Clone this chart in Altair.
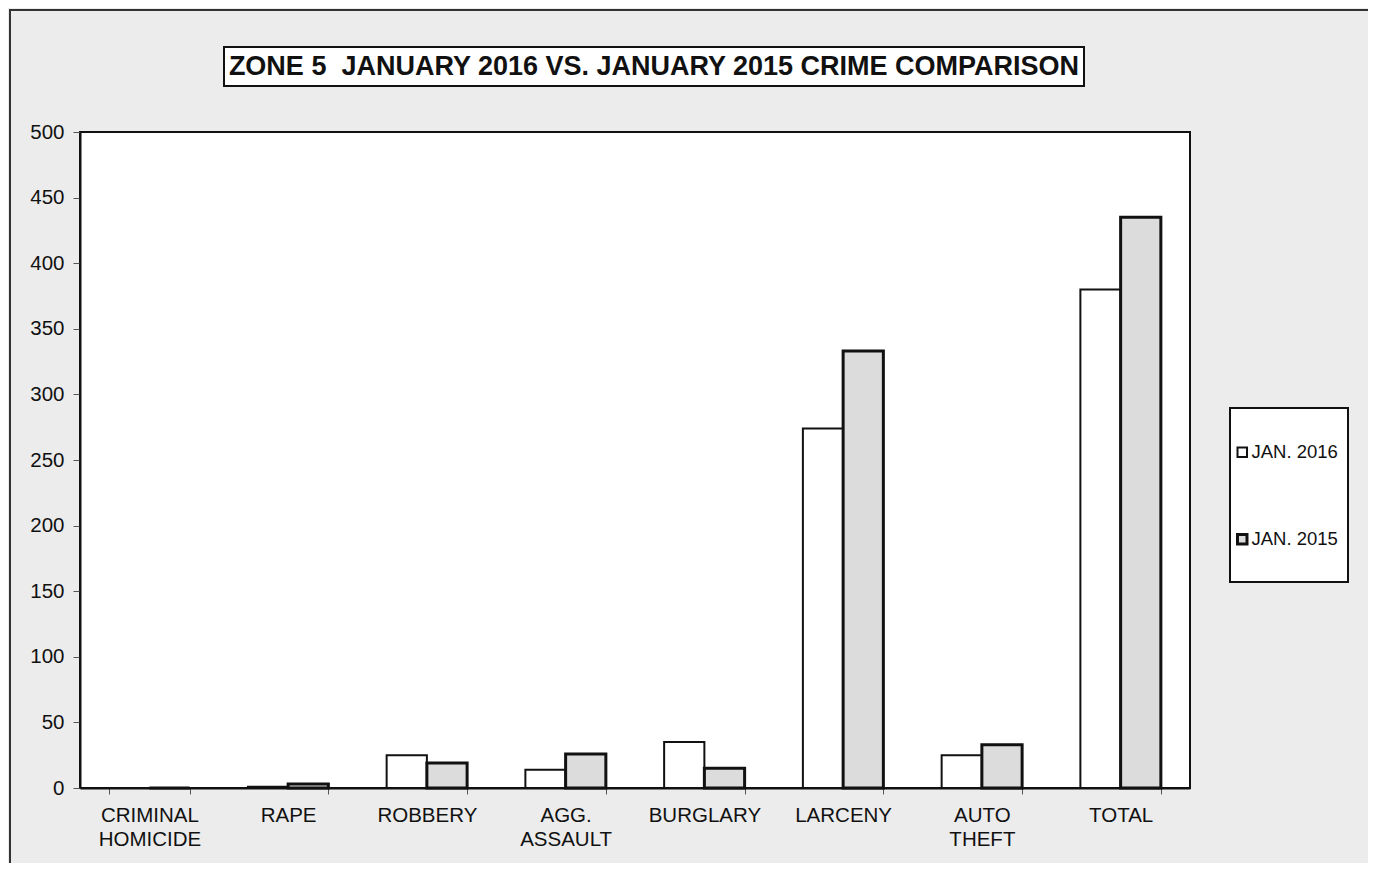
import altair as alt
import pandas as pd

categories = ["CRIMINAL HOMICIDE", "RAPE", "ROBBERY", "AGG. ASSAULT",
              "BURGLARY", "LARCENY", "AUTO THEFT", "TOTAL"]
jan2016 = [0, 1, 25, 14, 35, 274, 25, 380]
jan2015 = [0, 3, 19, 26, 15, 333, 33, 435]
series = ["JAN. 2016", "JAN. 2015"]
title_text = "ZONE 5\u00a0\u00a0JANUARY 2016 VS. JANUARY 2015 CRIME COMPARISON"

rows = []
for c, a, b in zip(categories, jan2016, jan2015):
    rows.append({"cat": c, "series": series[0], "value": a})
    rows.append({"cat": c, "series": series[1], "value": b})
df = pd.DataFrame(rows)

FONT = "Liberation Sans"

bars = alt.Chart(df).mark_bar(stroke="#111").encode(
    x=alt.X("cat:N", sort=categories, title=None,
            scale=alt.Scale(paddingInner=0.42, paddingOuter=0.21),
            axis=alt.Axis(labelAngle=0, labelExpr="split(datum.label, ' ')",
                          labelFontSize=20.5, labelFont=FONT, labelColor="#111",
                          labelPadding=11, labelLineHeight=24,
                          tickBand="extent", tickSize=6, tickColor="#555",
                          domainColor="#111", domainWidth=2)),
    xOffset=alt.XOffset("series:N", sort=series),
    y=alt.Y("value:Q", title=None,
            scale=alt.Scale(domain=[0, 500]),
            axis=alt.Axis(values=list(range(0, 501, 50)), grid=False,
                          labelFontSize=20.5, labelFont=FONT, labelColor="#111",
                          tickSize=7, tickColor="#555", labelPadding=9,
                          domainColor="#111", domainWidth=2)),
    fill=alt.Fill("series:N", sort=series,
                  scale=alt.Scale(domain=series, range=["#ffffff", "#dcdcdc"]),
                  legend=alt.Legend(orient="none", legendX=1153, legendY=311,
                                    title=None, symbolType="square",
                                    symbolSize=90, symbolStrokeColor="#111",
                                    symbolStrokeWidth=2.5, labelFontSize=18.5,
                                    labelFont=FONT, labelColor="#111",
                                    rowPadding=66, labelOffset=0)),
    strokeWidth=alt.StrokeWidth("series:N", sort=series,
                                scale=alt.Scale(domain=series, range=[2, 3]),
                                legend=None),
)

one = alt.Data(values=[{"k": 1}])

frame = alt.Chart(one).mark_rect(fill=None, stroke="#333", strokeWidth=2).encode(
    x=alt.value(-70), x2=alt.value(1320), y=alt.value(-122), y2=alt.value(745))

title_box = alt.Chart(one).mark_rect(fill="white", stroke="#111", strokeWidth=2).encode(
    x=alt.value(144), x2=alt.value(1004), y=alt.value(-85), y2=alt.value(-46))

title = alt.Chart(one).mark_text(fontSize=27, fontWeight="bold", font=FONT,
                                 color="#111", align="center", baseline="middle").encode(
    x=alt.value(574), y=alt.value(-65), text=alt.value(title_text))

legend_box = alt.Chart(one).mark_rect(fill="white", stroke="#111", strokeWidth=2).encode(
    x=alt.value(1150), x2=alt.value(1268), y=alt.value(276), y2=alt.value(450))

chart = alt.layer(frame, title_box, title, legend_box, bars).properties(
    width=1110, height=656,
    autosize=alt.AutoSizeParams(type="none"),
    padding={"left": 72, "top": 124, "right": 178, "bottom": 75},
    background="#ececec",
).configure_view(fill="white", stroke="#111", strokeWidth=2)

chart.save("out.html", embed_options={"renderer": "svg", "actions": False})
